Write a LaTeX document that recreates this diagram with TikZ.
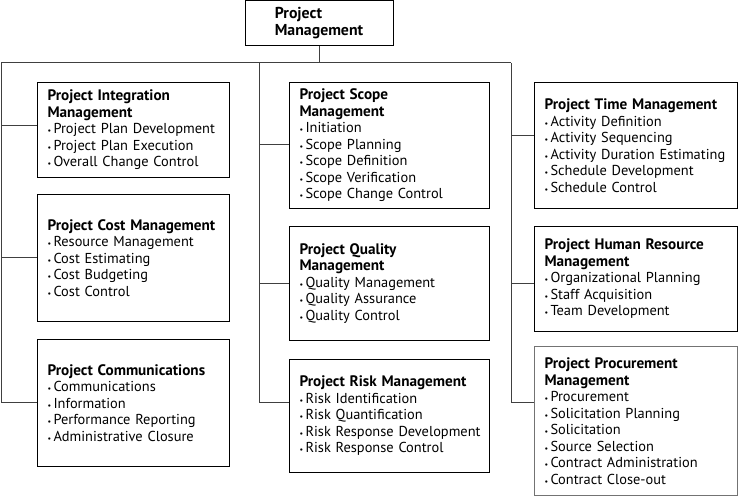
\documentclass[tikz,border=0pt]{standalone}
\usepackage{fontspec}
\setmainfont{PT Sans}
\usepackage{tikz}
\usetikzlibrary{positioning,calc}

\newcommand{\itm}[1]{\mbox{{\footnotesize\textbullet}\,#1}}
\newcommand{\ttl}[1]{\mbox{\fontsize{15.2}{16.5}\selectfont\bfseries #1}}

\begin{document}
\begin{tikzpicture}[x=1pt, y=-1pt,
    box/.style={draw, line width=1pt, anchor=north west, align=left, inner xsep=10pt, inner ysep=4pt, font=\fontsize{14.4}{16.5}\selectfont},
    colL/.style={box, text width=172pt},
    colM/.style={box, text width=180pt},
    colR/.style={box, text width=183pt},
    line/.style={draw=black!75, line width=1pt}
]
\useasboundingbox (0,0) rectangle (738,497);

\node[draw, line width=1pt, anchor=north, align=left, minimum width=148pt, minimum height=44.5pt, font=\fontsize{15.8}{17}\selectfont\bfseries] (pm) at (319,0.5) {Project\\Management};

\node[colL, minimum height=95pt] (integ) at (37,82) {\ttl{Project Integration}\\\ttl{Management}\\\itm{Project Plan Development}\\\itm{Project Plan Execution}\\\itm{Overall Change Control}};
\node[colL, minimum height=127pt] (cost) at (37,194) {\ttl{Project Cost Management}\\\itm{Resource Management}\\\itm{Cost Estimating}\\\itm{Cost Budgeting}\\\itm{Cost Control}};
\node[colL, minimum height=127pt] (comm) at (37,339) {\ttl{Project Communications}\\\itm{Communications}\\\itm{Information}\\\itm{Performance Reporting}\\\itm{Administrative Closure}};

\node[colM, minimum height=126pt] (scope) at (289,82) {\ttl{Project Scope}\\\ttl{Management}\\\itm{Initiation}\\\itm{Scope Planning}\\\itm{Scope Definition}\\\itm{Scope Verification}\\\itm{Scope Change Control}};
\node[colM, minimum height=114pt] (quality) at (289,226) {\ttl{Project Quality}\\\ttl{Management}\\\itm{Quality Management}\\\itm{Quality Assurance}\\\itm{Quality Control}};
\node[colM, minimum height=113pt] (risk) at (289,359) {\ttl{Project Risk Management}\\\itm{Risk Identification}\\\itm{Risk Quantification}\\\itm{Risk Response Development}\\\itm{Risk Response Control}};

\node[colR, minimum height=126pt] (time) at (534,82) {\ttl{Project Time Management}\\\itm{Activity Definition}\\\itm{Activity Sequencing}\\\itm{Activity Duration Estimating}\\\itm{Schedule Development}\\\itm{Schedule Control}};
\node[colR, minimum height=105pt] (hr) at (534,226) {\ttl{Project Human Resource}\\\ttl{Management}\\\itm{Organizational Planning}\\\itm{Staff Acquisition}\\\itm{Team Development}};
\node[colR, draw=black!55, minimum height=149pt] (proc) at (534,346) {\ttl{Project Procurement}\\\ttl{Management}\\\itm{Procurement}\\\itm{Solicitation Planning}\\\itm{Solicitation}\\\itm{Source Selection}\\\itm{Contract Administration}\\\itm{Contract Close-out}};

\coordinate (busL) at (1,63);
\coordinate (busM) at (259,63);
\coordinate (busR) at (511,63);

\draw[line] (pm.south) -- (pm.south |- busL);
\draw[line] (busL) -- (busR);
\draw[line] (busL) -- (busL |- 0,402);
\draw[line] (busM) -- (busM |- 0,402);
\draw[line] (busR) -- (busR |- 0,402);

\draw[line] (busL |- 0,126) -- (integ.west |- 0,126);
\draw[line] (busL |- 0,257) -- (cost.west |- 0,257);
\draw[line] (busL |- 0,402) -- (comm.west |- 0,402);
\draw[line] (busM |- 0,145) -- (scope.west |- 0,145);
\draw[line] (busM |- 0,283) -- (quality.west |- 0,283);
\draw[line] (busM |- 0,402) -- (risk.west |- 0,402);
\draw[line] (busR |- 0,136) -- (time.west |- 0,136);
\draw[line] (busR |- 0,283) -- (hr.west |- 0,283);
\draw[line] (busR |- 0,402) -- (proc.west |- 0,402);
\end{tikzpicture}
\end{document}
